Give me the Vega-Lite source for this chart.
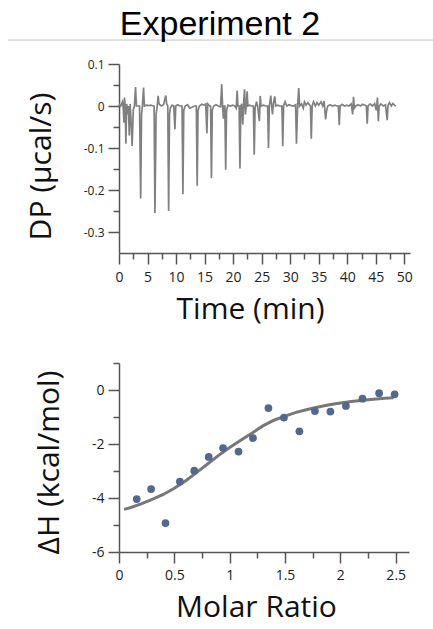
{
  "$schema": "https://vega.github.io/schema/vega-lite/v6.json",
  "padding": {"left": 7, "top": 7, "right": 0, "bottom": 0},
  "bounds": "flush",
  "spacing": 110,
  "config": {
    "view": {"stroke": null},
    "font": "Open Sans",
    "axis": {
      "grid": false,
      "domainColor": "#555555",
      "domainWidth": 1.5,
      "tickColor": "#555555",
      "tickWidth": 1.5,
      "tickSize": 11,
      "labelFont": "Open Sans",
      "labelFontSize": 14,
      "labelColor": "#222222",
      "labelPadding": 4,
      "labelFlush": false,
      "labelOverlap": false,
      "titleFont": "Open Sans",
      "titleFontSize": 30,
      "titleFontWeight": "normal",
      "titleColor": "#111111"
    }
  },
  "datasets": {
    "header": [{"label": "Experiment 2"}],
    "thermo": [
      {"t": 0, "dp": 0.005}, {"t": 0.3, "dp": 0.0}, {"t": 0.6, "dp": 0.01}, {"t": 0.75, "dp": -0.005},
      {"t": 0.87, "dp": -0.04}, {"t": 0.95, "dp": 0.02}, {"t": 1.1, "dp": 0.0}, {"t": 1.2, "dp": -0.09},
      {"t": 1.35, "dp": 0.005}, {"t": 1.5, "dp": -0.02}, {"t": 1.65, "dp": 0.0}, {"t": 1.8, "dp": -0.07},
      {"t": 1.95, "dp": 0.005}, {"t": 2.1, "dp": -0.03}, {"t": 2.3, "dp": -0.095}, {"t": 2.5, "dp": -0.01},
      {"t": 2.7, "dp": 0.0}, {"t": 2.9, "dp": 0.045}, {"t": 3.05, "dp": 0.0}, {"t": 3.3, "dp": 0.0},
      {"t": 3.6, "dp": 0.0}, {"t": 3.8, "dp": -0.22}, {"t": 3.95, "dp": -0.02}, {"t": 4.1, "dp": 0.0},
      {"t": 4.3, "dp": 0.044}, {"t": 4.45, "dp": 0.0}, {"t": 4.8, "dp": 0.002}, {"t": 5.2, "dp": 0.001},
      {"t": 5.6, "dp": 0.002}, {"t": 6.0, "dp": 0.0}, {"t": 6.15, "dp": 0.0}, {"t": 6.3, "dp": -0.255},
      {"t": 6.5, "dp": -0.02}, {"t": 6.7, "dp": 0.0}, {"t": 6.86, "dp": 0.024}, {"t": 7.0, "dp": 0.005},
      {"t": 7.4, "dp": 0.0}, {"t": 7.8, "dp": 0.003}, {"t": 8.2, "dp": 0.025}, {"t": 8.35, "dp": 0.005},
      {"t": 8.55, "dp": 0.0}, {"t": 8.7, "dp": -0.25}, {"t": 8.85, "dp": -0.02}, {"t": 9.0, "dp": -0.005},
      {"t": 9.3, "dp": 0.002}, {"t": 9.6, "dp": 0.0}, {"t": 9.8, "dp": -0.055}, {"t": 9.95, "dp": 0.0},
      {"t": 10.3, "dp": 0.003}, {"t": 10.7, "dp": 0.0}, {"t": 11.05, "dp": 0.0}, {"t": 11.2, "dp": -0.21},
      {"t": 11.35, "dp": -0.01}, {"t": 11.6, "dp": 0.0}, {"t": 12.0, "dp": 0.003}, {"t": 12.4, "dp": -0.005},
      {"t": 12.8, "dp": -0.003}, {"t": 13.2, "dp": 0.0}, {"t": 13.55, "dp": 0.0}, {"t": 13.7, "dp": -0.19},
      {"t": 13.85, "dp": -0.01}, {"t": 14.1, "dp": 0.0}, {"t": 14.5, "dp": 0.004}, {"t": 14.9, "dp": 0.002},
      {"t": 15.2, "dp": 0.005}, {"t": 15.4, "dp": -0.065}, {"t": 15.55, "dp": 0.005}, {"t": 15.9, "dp": 0.0},
      {"t": 16.05, "dp": 0.0}, {"t": 16.2, "dp": -0.172}, {"t": 16.35, "dp": -0.01}, {"t": 16.6, "dp": 0.0},
      {"t": 17.0, "dp": 0.003}, {"t": 17.4, "dp": 0.0}, {"t": 17.8, "dp": -0.002}, {"t": 18.0, "dp": 0.052},
      {"t": 18.15, "dp": 0.0}, {"t": 18.3, "dp": -0.03}, {"t": 18.45, "dp": 0.0}, {"t": 18.55, "dp": 0.0},
      {"t": 18.7, "dp": -0.152}, {"t": 18.85, "dp": -0.01}, {"t": 19.1, "dp": 0.002}, {"t": 19.5, "dp": 0.0},
      {"t": 19.9, "dp": 0.002}, {"t": 20.3, "dp": 0.0}, {"t": 20.55, "dp": -0.005}, {"t": 20.7, "dp": 0.037},
      {"t": 20.85, "dp": 0.0}, {"t": 21.05, "dp": 0.0}, {"t": 21.2, "dp": -0.149}, {"t": 21.35, "dp": 0.0},
      {"t": 21.5, "dp": 0.005}, {"t": 21.7, "dp": -0.044}, {"t": 21.85, "dp": 0.01}, {"t": 22.0, "dp": 0.04},
      {"t": 22.15, "dp": -0.02}, {"t": 22.3, "dp": 0.0}, {"t": 22.45, "dp": 0.035}, {"t": 22.6, "dp": 0.0},
      {"t": 22.9, "dp": 0.002}, {"t": 23.2, "dp": 0.0}, {"t": 23.55, "dp": 0.0}, {"t": 23.7, "dp": -0.116},
      {"t": 23.85, "dp": -0.005}, {"t": 24.1, "dp": 0.01}, {"t": 24.3, "dp": 0.0}, {"t": 24.6, "dp": -0.036},
      {"t": 24.75, "dp": 0.024}, {"t": 24.9, "dp": 0.0}, {"t": 25.3, "dp": 0.002}, {"t": 25.7, "dp": 0.0},
      {"t": 26.05, "dp": 0.0}, {"t": 26.2, "dp": -0.1}, {"t": 26.35, "dp": 0.0}, {"t": 26.6, "dp": 0.025},
      {"t": 26.75, "dp": 0.0}, {"t": 26.9, "dp": -0.02}, {"t": 27.05, "dp": 0.005}, {"t": 27.3, "dp": 0.023},
      {"t": 27.45, "dp": 0.0}, {"t": 27.8, "dp": 0.002}, {"t": 28.2, "dp": 0.0}, {"t": 28.55, "dp": 0.0},
      {"t": 28.7, "dp": -0.096}, {"t": 28.85, "dp": 0.0}, {"t": 29.1, "dp": 0.01}, {"t": 29.4, "dp": 0.0},
      {"t": 29.8, "dp": 0.003}, {"t": 30.2, "dp": 0.001}, {"t": 30.6, "dp": 0.0}, {"t": 30.95, "dp": 0.003},
      {"t": 31.1, "dp": -0.09}, {"t": 31.3, "dp": 0.0}, {"t": 31.5, "dp": 0.043}, {"t": 31.65, "dp": 0.0},
      {"t": 32.0, "dp": 0.005}, {"t": 32.3, "dp": -0.005}, {"t": 32.5, "dp": 0.01}, {"t": 32.8, "dp": 0.002},
      {"t": 33.1, "dp": 0.008}, {"t": 33.55, "dp": 0.0}, {"t": 33.7, "dp": -0.078}, {"t": 33.85, "dp": 0.0},
      {"t": 34.1, "dp": 0.01}, {"t": 34.4, "dp": 0.0}, {"t": 34.7, "dp": 0.008}, {"t": 35.0, "dp": 0.002},
      {"t": 35.4, "dp": 0.01}, {"t": 35.7, "dp": 0.0}, {"t": 35.95, "dp": 0.012}, {"t": 36.2, "dp": -0.032},
      {"t": 36.4, "dp": -0.01}, {"t": 36.6, "dp": 0.0}, {"t": 37.0, "dp": 0.003}, {"t": 37.4, "dp": 0.0},
      {"t": 37.8, "dp": 0.002}, {"t": 38.2, "dp": 0.0}, {"t": 38.45, "dp": 0.0}, {"t": 38.6, "dp": -0.046},
      {"t": 38.75, "dp": 0.0}, {"t": 39.1, "dp": 0.004}, {"t": 39.5, "dp": 0.0}, {"t": 39.9, "dp": 0.002},
      {"t": 40.3, "dp": 0.0}, {"t": 40.7, "dp": 0.005}, {"t": 40.95, "dp": -0.02}, {"t": 41.1, "dp": 0.022},
      {"t": 41.25, "dp": -0.005}, {"t": 41.5, "dp": 0.0}, {"t": 41.9, "dp": 0.003}, {"t": 42.3, "dp": 0.0},
      {"t": 42.7, "dp": 0.004}, {"t": 43.1, "dp": 0.002}, {"t": 43.35, "dp": 0.0}, {"t": 43.5, "dp": -0.042},
      {"t": 43.65, "dp": 0.0}, {"t": 44.0, "dp": 0.005}, {"t": 44.4, "dp": 0.0}, {"t": 44.8, "dp": 0.006},
      {"t": 45.1, "dp": -0.01}, {"t": 45.3, "dp": 0.02}, {"t": 45.45, "dp": -0.036}, {"t": 45.6, "dp": 0.0},
      {"t": 45.9, "dp": 0.005}, {"t": 46.3, "dp": 0.0}, {"t": 46.7, "dp": 0.003}, {"t": 47.0, "dp": -0.034},
      {"t": 47.15, "dp": 0.002}, {"t": 47.4, "dp": 0.008}, {"t": 47.7, "dp": 0.0}, {"t": 48.0, "dp": 0.006},
      {"t": 48.3, "dp": 0.002}, {"t": 48.5, "dp": 0.0}
    ],
    "inj": [
      {"mr": 0.16, "dh": -4.04}, {"mr": 0.29, "dh": -3.67}, {"mr": 0.42, "dh": -4.93},
      {"mr": 0.55, "dh": -3.39}, {"mr": 0.68, "dh": -2.99}, {"mr": 0.81, "dh": -2.48},
      {"mr": 0.94, "dh": -2.15}, {"mr": 1.08, "dh": -2.28}, {"mr": 1.21, "dh": -1.78},
      {"mr": 1.35, "dh": -0.67}, {"mr": 1.49, "dh": -1.02}, {"mr": 1.63, "dh": -1.53},
      {"mr": 1.77, "dh": -0.78}, {"mr": 1.91, "dh": -0.8}, {"mr": 2.05, "dh": -0.59},
      {"mr": 2.2, "dh": -0.32}, {"mr": 2.35, "dh": -0.12}, {"mr": 2.49, "dh": -0.16}
    ],
    "fit": [
      {"mr": 0.045, "dh": -4.42}, {"mr": 0.1, "dh": -4.36}, {"mr": 0.2, "dh": -4.22},
      {"mr": 0.3, "dh": -4.05}, {"mr": 0.4, "dh": -3.87}, {"mr": 0.5, "dh": -3.64},
      {"mr": 0.6, "dh": -3.37}, {"mr": 0.7, "dh": -3.06}, {"mr": 0.8, "dh": -2.74},
      {"mr": 0.9, "dh": -2.42}, {"mr": 1.0, "dh": -2.13}, {"mr": 1.1, "dh": -1.86},
      {"mr": 1.2, "dh": -1.6}, {"mr": 1.3, "dh": -1.33}, {"mr": 1.4, "dh": -1.12},
      {"mr": 1.5, "dh": -0.97}, {"mr": 1.6, "dh": -0.83}, {"mr": 1.7, "dh": -0.72},
      {"mr": 1.8, "dh": -0.63}, {"mr": 1.9, "dh": -0.55}, {"mr": 2.0, "dh": -0.48},
      {"mr": 2.1, "dh": -0.43}, {"mr": 2.2, "dh": -0.38}, {"mr": 2.3, "dh": -0.34},
      {"mr": 2.4, "dh": -0.31}, {"mr": 2.48, "dh": -0.29}
    ]
  },
  "vconcat": [
    {
      "width": 291,
      "height": 189,
      "resolve": {"axis": {"x": "independent", "y": "independent"}},
      "layer": [
        {
          "data": {"name": "thermo"},
          "mark": {"type": "line", "color": "#808080", "strokeWidth": 1.7},
          "encoding": {
            "x": {
              "field": "t", "type": "quantitative",
              "scale": {"domain": [0, 51], "nice": false, "zero": false},
              "axis": {
                "orient": "bottom",
                "title": "Time (min)",
                "values": [0, 5, 10, 15, 20, 25, 30, 35, 40, 45, 50],
                "labelExpr": "toString(datum.value)",
                "labelPadding": 6,
                "titlePadding": 10,
                "titleX": 131
              }
            },
            "y": {
              "field": "dp", "type": "quantitative",
              "scale": {"domain": [-0.35, 0.1], "nice": false, "zero": false},
              "axis": {
                "orient": "left",
                "title": "DP (µcal/s)",
                "values": [-0.3, -0.2, -0.1, 0, 0.1],
                "labelExpr": "toString(datum.value)",
                "labelFontSize": 12,
                "titlePadding": 27,
                "titleY": 102
              }
            }
          }
        },
        {
          "data": {"name": "thermo"},
          "mark": {"type": "line", "opacity": 0},
          "encoding": {
            "x": {
              "field": "t", "type": "quantitative",
              "axis": {
                "orient": "bottom",
                "title": null,
                "values": [2.5, 7.5, 12.5, 17.5, 22.5, 27.5, 32.5, 37.5, 42.5, 47.5],
                "labels": false,
                "domain": false,
                "tickSize": 6
              }
            },
            "y": {
              "field": "dp", "type": "quantitative",
              "axis": {
                "orient": "left",
                "title": null,
                "values": [-0.25, -0.15, -0.05, 0.05],
                "labels": false,
                "domain": false,
                "tickSize": 6
              }
            }
          }
        },
        {
          "data": {"name": "header"},
          "mark": {"type": "rule", "color": "#c4c4c4", "strokeWidth": 1},
          "encoding": {
            "x": {"datum": -19.5, "type": "quantitative", "axis": null},
            "x2": {"datum": 55.1},
            "y": {"datum": 0.157, "type": "quantitative", "axis": null}
          }
        },
        {
          "data": {"name": "header"},
          "mark": {"type": "text", "font": "Liberation Sans", "fontSize": 34, "color": "#000000", "align": "center", "baseline": "alphabetic"},
          "encoding": {
            "x": {"datum": 17.7, "type": "quantitative", "axis": null},
            "y": {"datum": 0.17, "type": "quantitative", "axis": null},
            "text": {"field": "label"}
          }
        }
      ]
    },
    {
      "width": 290,
      "height": 189,
      "resolve": {"axis": {"x": "independent", "y": "independent"}},
      "layer": [
        {
          "data": {"name": "fit"},
          "mark": {"type": "line", "color": "#777777", "strokeWidth": 3},
          "encoding": {
            "x": {
              "field": "mr", "type": "quantitative",
              "scale": {"domain": [0, 2.62], "nice": false, "zero": false},
              "axis": {
                "orient": "bottom",
                "title": "Molar Ratio",
                "values": [0, 0.5, 1, 1.5, 2, 2.5],
                "labelExpr": "toString(datum.value)",
                "labelPadding": 5,
                "titlePadding": 10,
                "titleX": 137
              }
            },
            "y": {
              "field": "dh", "type": "quantitative",
              "scale": {"domain": [-6, 1], "nice": false, "zero": false},
              "axis": {
                "orient": "left",
                "title": "ΔH (kcal/mol)",
                "values": [-6, -4, -2, 0],
                "labelExpr": "toString(datum.value)",
                "titlePadding": 27,
                "titleY": 99
              }
            }
          }
        },
        {
          "data": {"name": "inj"},
          "mark": {"type": "circle", "color": "#52698c", "opacity": 1, "size": 60},
          "encoding": {
            "x": {
              "field": "mr", "type": "quantitative",
              "axis": {
                "orient": "bottom",
                "title": null,
                "values": [0.25, 0.75, 1.25, 1.75, 2.25],
                "labels": false,
                "domain": false,
                "tickSize": 6
              }
            },
            "y": {
              "field": "dh", "type": "quantitative",
              "axis": {
                "orient": "left",
                "title": null,
                "values": [-5, -3, -1, 1],
                "labels": false,
                "domain": false,
                "tickSize": 6
              }
            }
          }
        }
      ]
    }
  ]
}
